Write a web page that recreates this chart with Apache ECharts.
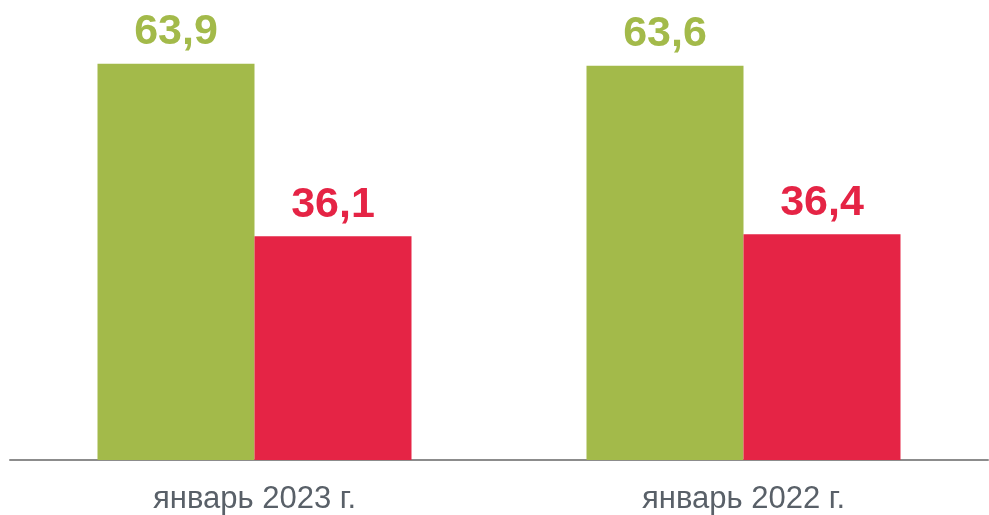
<!DOCTYPE html>
<html><head><meta charset="utf-8">
<script src="https://cdn.jsdelivr.net/npm/echarts@6/dist/echarts.min.js"></script>
<style>html,body{margin:0;padding:0;background:#fff}#c{width:989px;height:515px}</style>
</head><body><div id="c"></div>
<script>
const categories = ['январь 2023 г.', 'январь 2022 г.'];
const greenValues = [63.9, 63.6];
const redValues = [36.1, 36.4];

const fmt = p => String(p.value).replace('.', ',');
const chart = echarts.init(document.getElementById('c'));
chart.setOption({
  animation: false,
  grid: { left: 10, right: 1, top: 26, bottom: 55, containLabel: false },
  xAxis: {
    type: 'category', data: categories,
    axisLine: { lineStyle: { color: '#8c8c8c', width: 2 } },
    axisTick: { show: false },
    axisLabel: { color: '#596068', fontSize: 31, fontFamily: 'Liberation Sans, Arial, sans-serif', margin: 24 }
  },
  yAxis: { type: 'value', min: 0, max: 70, show: false, splitLine: { show: false } },
  series: [
    { type: 'bar', data: greenValues, barWidth: 157, barGap: '0%',
      itemStyle: { color: '#A3BA4A' },
      label: { show: true, position: 'top', distance: 10, formatter: fmt, color: '#A3BA4A',
        fontSize: 43, fontWeight: 'bold', fontFamily: 'Liberation Sans, Arial, sans-serif' } },
    { type: 'bar', data: redValues, barWidth: 157, barGap: '0%',
      itemStyle: { color: '#E52445' },
      label: { show: true, position: 'top', distance: 10, formatter: fmt, color: '#E52445',
        fontSize: 43, fontWeight: 'bold', fontFamily: 'Liberation Sans, Arial, sans-serif' } }
  ]
});
</script></body></html>
